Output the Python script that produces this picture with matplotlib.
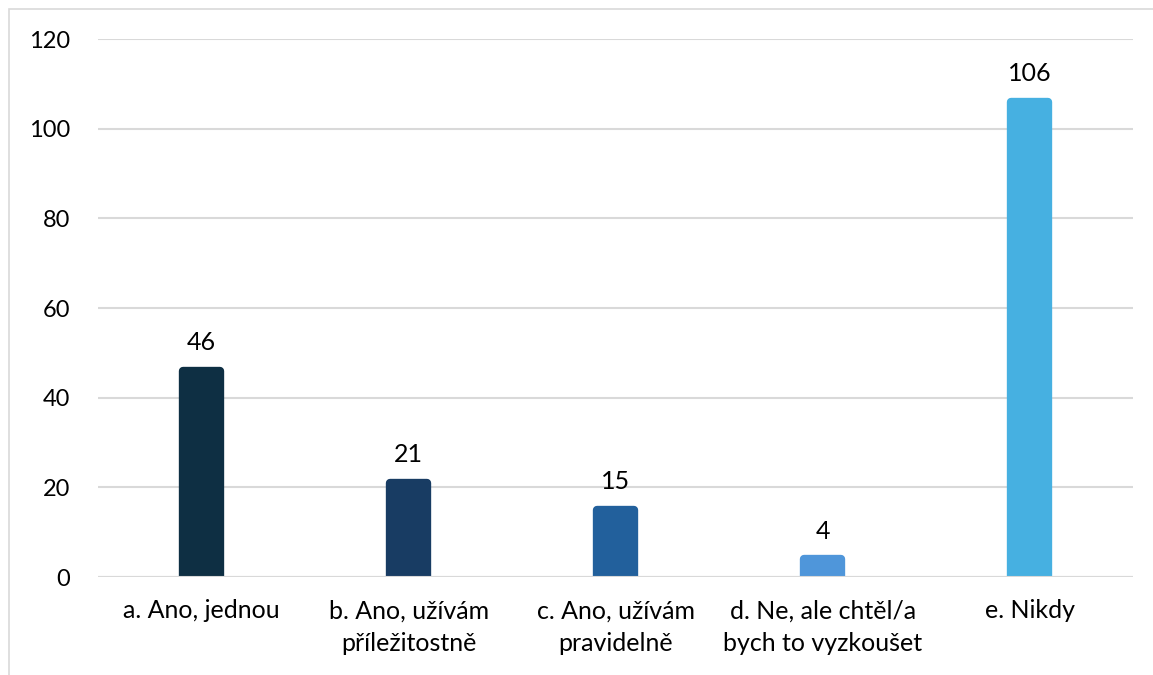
import matplotlib.pyplot as plt
from matplotlib.patches import Rectangle

categories = ['a. Ano, jednou', 'b. Ano, užívám\npříležitostně', 'c. Ano, užívám\npravidelně',
              'd. Ne, ale chtěl/a\nbych to vyzkoušet', 'e. Nikdy']
values = [46, 21, 15, 4, 106]
colors = ['#0e2f43', '#183c63', '#22609c', '#4f96da', '#46b0e1']
yticks = [0, 20, 40, 60, 80, 100, 120]

plt.rcParams['font.family'] = ['Lato', 'DejaVu Sans']

fig = plt.figure(figsize=(11.53, 6.75), dpi=100)
ax = fig.add_axes([0.085, 0.145, 0.898, 0.797])

x = range(len(categories))
# thick edge with round joins gives the rounded top corners
bars = ax.bar(x, values, width=0.178, color=colors, edgecolor=colors, linewidth=6,
              joinstyle='round', zorder=3)
for xi, v in zip(x, values):
    ax.annotate(str(v), (xi, v), xytext=(0, 12), textcoords='offset points',
                ha='center', va='bottom', fontsize=18)

ax.set_ylim(0, 120)
ax.set_xlim(-0.5, len(categories) - 0.5)
ax.set_yticks(yticks)
ax.set_xticks(list(x))
ax.set_xticklabels(categories, fontsize=18, linespacing=1.5)
ax.tick_params(axis='y', labelsize=17, length=0, pad=20)
ax.tick_params(axis='x', length=0, pad=16)
ax.grid(axis='y', color='#d9d9d9', linewidth=1.5, zorder=0)
ax.axhline(0, color='#d9d9d9', linewidth=1.5, zorder=4)
for s in ax.spines.values():
    s.set_visible(False)

# outer chart frame
fig.patches.append(Rectangle((9 / 1153, -0.1), 1.2, 1 - 9 / 675 + 0.1, transform=fig.transFigure,
                             fill=False, edgecolor='#d9d9d9', linewidth=1.2))

plt.savefig('out.png', dpi=100)
plt.close()
